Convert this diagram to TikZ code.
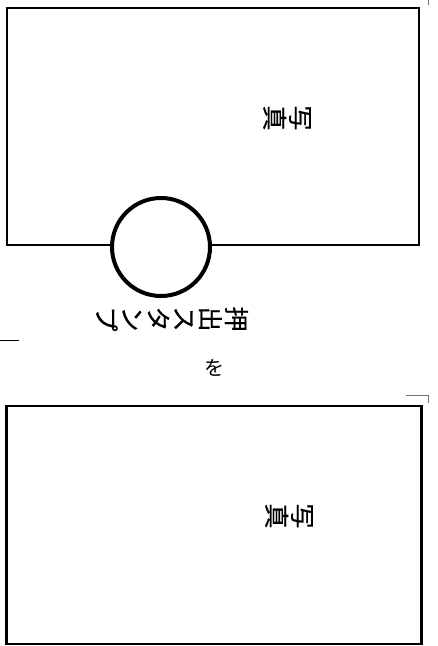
\documentclass[tikz,border=0pt]{standalone}
\usepackage{fontspec}
\newfontfamily\cjk{Noto Sans CJK JP}
\newfontfamily\cjkheavy[FakeBold=0.6]{Noto Sans CJK JP}
\tikzset{
  upperframe/.style={draw=black,line width=2pt},
  lowerframe/.style={draw=black,line width=2.6pt},
  stamp/.style={draw=black,line width=4pt,fill=white,circle,minimum size=98pt,inner sep=0pt},
  label/.style={inner sep=0pt,rotate=-90,align=center,font=\cjkheavy\fontsize{25}{26}\selectfont},
  crop/.style={draw=black!55,line width=1pt},
}
\begin{document}
\begin{tikzpicture}[x=1pt,y=-1pt]
\useasboundingbox (0,0) rectangle (437,646);
\draw[upperframe] (6.7,8) -- (419,8) -- (419,244.5) -- (6.7,244.5) -- cycle;
\node[stamp] (stamp) at (161,247) {};
\node[label] (t0) at (172,319) {押\\出\\ス\\タ\\ン\\プ};
\node[label] (t1) at (287,118) {写\\真};
\node[label] (t2) at (289,516) {写\\真};
\node[inner sep=0pt,font=\cjk\fontsize{20}{20}\selectfont] (w) at (214,368) {を};
\draw[lowerframe] (6.3,406) -- (421.3,406) -- (421.3,644) -- (6.3,644) -- cycle;
\draw[crop] (406,395) -- (428,395) -- (428,403);
\draw[crop] (428,0) -- (428,4.7);
\draw[draw=black,line width=1.2pt] (0,340.3) -- (19,340.3);
\end{tikzpicture}
\end{document}
